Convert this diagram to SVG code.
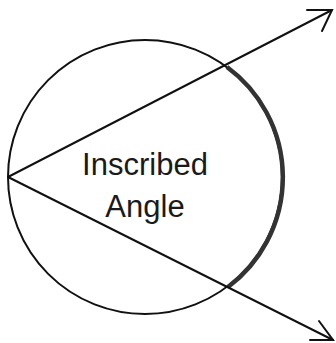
<svg xmlns="http://www.w3.org/2000/svg" width="336" height="343" viewBox="0 0 336 343">
<style>
.ln{fill:none;stroke:#111;stroke-width:2;stroke-linecap:round;stroke-linejoin:miter}
.arc{fill:none;stroke:#333;stroke-width:4.5}
.lbl{font-family:"Liberation Sans",Arial,sans-serif;font-size:31px;fill:#1a1a1a;text-anchor:middle}
</style>
<rect width="336" height="343" fill="#fff"/>
<g id="circle">
<circle class="ln" cx="145" cy="177" r="137"/>
<path class="arc" d="M227,67 A137,137 0 0 1 228,287"/>
</g>
<g id="connectors">
<path class="ln" d="M8,177 L332,10"/>
<path class="ln" d="M307,10 L332,10 L322,31"/>
<path class="ln" d="M8,177 L333,340"/>
<path class="ln" d="M310,340 L333,340 L319,321"/>
</g>
<g id="label">
<text class="lbl" x="145" y="175">Inscribed</text>
<text class="lbl" x="145" y="217">Angle</text>
</g>
</svg>
